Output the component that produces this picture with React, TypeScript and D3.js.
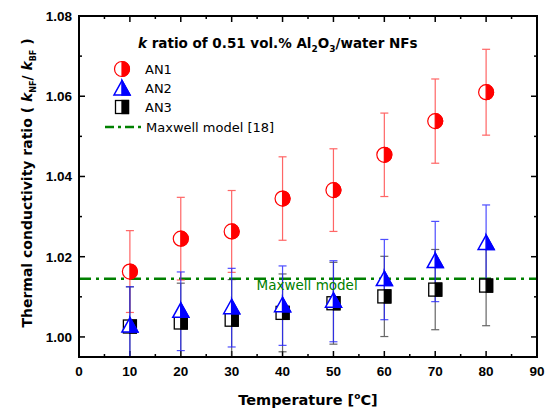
import React, { useEffect, useRef } from "react";
import * as d3 from "d3";

const temps = [10, 20, 30, 40, 50, 60, 70, 80];
const an1 = [1.0163, 1.0245, 1.0263, 1.0345, 1.0366, 1.0454, 1.0538, 1.061];
const an1Err = [0.0102, 0.0103, 0.0102, 0.0104, 0.0103, 0.0104, 0.0105, 0.0107];
const an2 = [1.0027, 1.0064, 1.0073, 1.0078, 1.0089, 1.0143, 1.0188, 1.0233];
const an2Err = [0.0098, 0.0098, 0.0098, 0.0099, 0.0101, 0.0100, 0.0100, 0.0096];
const an3 = [1.0026, 1.0036, 1.0043, 1.006, 1.0084, 1.0101, 1.0118, 1.0128];
const an3Err = [0.0099, 0.0098, 0.0100, 0.0097, 0.0102, 0.0100, 0.0100, 0.0100];
const maxwell = 1.0145;
const xTicks = [0, 10, 20, 30, 40, 50, 60, 70, 80, 90];
const yTicks = [1.0, 1.02, 1.04, 1.06, 1.08];

const W = 549;
const H = 410;
const m = { left: 79, right: 12, top: 16, bottom: 53 };

export default function App() {
  const ref = useRef<SVGSVGElement>(null);

  useEffect(() => {
    const svg = d3.select(ref.current);
    svg.selectAll("*").remove();

    const x = d3.scaleLinear().domain([0, 90]).range([m.left, W - m.right]);
    const y = d3.scaleLinear().domain([0.995, 1.08]).range([H - m.bottom, m.top]);
    const [x0, x1] = x.range();
    const [y0, y1] = y.range();

    svg.append("defs").append("clipPath").attr("id", "plotclip")
      .append("rect").attr("x", x0).attr("y", y1).attr("width", x1 - x0).attr("height", y0 - y1);

    const tickFont = "'Liberation Sans', Arial, sans-serif";
    const axisG = svg.append("g").attr("stroke", "#000").attr("stroke-width", 1.5);
    // minor + major ticks, inward on all sides
    d3.range(0, 91, 5).forEach((v) => {
      const len = v % 10 === 0 ? 6 : 3;
      axisG.append("line").attr("x1", x(v)).attr("x2", x(v)).attr("y1", y0).attr("y2", y0 - len);
      axisG.append("line").attr("x1", x(v)).attr("x2", x(v)).attr("y1", y1).attr("y2", y1 + len);
    });
    d3.range(1.0, 1.0801, 0.01).forEach((v) => {
      const major = Math.round(v * 100) % 2 === 0;
      const len = major ? 6 : 3;
      axisG.append("line").attr("y1", y(v)).attr("y2", y(v)).attr("x1", x0).attr("x2", x0 + len);
      axisG.append("line").attr("y1", y(v)).attr("y2", y(v)).attr("x1", x1).attr("x2", x1 - len);
    });

    svg.append("g").selectAll("text").data(xTicks).join("text")
      .attr("x", (d) => x(d)).attr("y", y0 + 19)
      .attr("text-anchor", "middle").attr("font-family", tickFont)
      .attr("font-weight", "bold").attr("font-size", 13.5).text((d) => d);
    svg.append("g").selectAll("text").data(yTicks).join("text")
      .attr("x", x0 - 7).attr("y", (d) => y(d) + 5)
      .attr("text-anchor", "end").attr("font-family", tickFont)
      .attr("font-weight", "bold").attr("font-size", 13.5).text((d) => d.toFixed(2));

    const plot = svg.append("g").attr("clip-path", "url(#plotclip)");

    // Maxwell line
    plot.append("line").attr("x1", x0).attr("x2", x1)
      .attr("y1", y(maxwell)).attr("y2", y(maxwell))
      .attr("stroke", "#008000").attr("stroke-width", 2.5).attr("stroke-dasharray", "12,5,3,5");
    svg.append("text").attr("x", x(34.9)).attr("y", y(maxwell) + 11)
      .attr("font-family", "'DejaVu Sans', Verdana, sans-serif").attr("font-size", 13.5)
      .attr("fill", "#008000").text("Maxwell model");

    const errBars = (vals: number[], errs: number[], color: string, op: number) => {
      const g = plot.append("g").attr("stroke", color).attr("stroke-width", 1.2).attr("opacity", op);
      temps.forEach((t, i) => {
        const cx = x(t);
        const top = y(vals[i] + errs[i]);
        const bot = y(vals[i] - errs[i]);
        g.append("line").attr("x1", cx).attr("x2", cx).attr("y1", top).attr("y2", bot);
        g.append("line").attr("x1", cx - 4).attr("x2", cx + 4).attr("y1", top).attr("y2", top);
        g.append("line").attr("x1", cx - 4).attr("x2", cx + 4).attr("y1", bot).attr("y2", bot);
      });
    };
    errBars(an1, an1Err, "#ff4040", 0.8);
    errBars(an3, an3Err, "#333", 0.75);
    errBars(an2, an2Err, "#2222ff", 0.8);

    const circle = (g: any, cx: number, cy: number) => {
      const r = 7.5;
      g.append("circle").attr("cx", cx).attr("cy", cy).attr("r", r).attr("fill", "#fff")
        .attr("stroke", "#ff0000").attr("stroke-width", 1.2);
      g.append("path").attr("d", `M${cx},${cy - r}A${r},${r} 0 0,1 ${cx},${cy + r}Z`)
        .attr("fill", "#ff0000").attr("stroke", "#ff0000").attr("stroke-width", 1.2);
    };
    const tri = (g: any, cx: number, cy: number) => {
      const s = 8;
      const top = cy - s * 1.05;
      const bot = cy + s * 0.75;
      g.append("path").attr("d", `M${cx},${top}L${cx + s},${bot}L${cx - s},${bot}Z`)
        .attr("fill", "#fff").attr("stroke", "#0000ff").attr("stroke-width", 1.5);
      g.append("path").attr("d", `M${cx},${top}L${cx + s},${bot}L${cx},${bot}Z`)
        .attr("fill", "#0000ff").attr("stroke", "#0000ff").attr("stroke-width", 1.5);
    };
    const sq = (g: any, cx: number, cy: number) => {
      const s = 6.5;
      g.append("rect").attr("x", cx - s).attr("y", cy - s).attr("width", 2 * s).attr("height", 2 * s)
        .attr("fill", "#fff").attr("stroke", "#000").attr("stroke-width", 1.3);
      g.append("rect").attr("x", cx).attr("y", cy - s).attr("width", s).attr("height", 2 * s)
        .attr("fill", "#000").attr("stroke", "#000").attr("stroke-width", 1.3);
    };

    const marks = svg.append("g");
    temps.forEach((t, i) => circle(marks, x(t), y(an1[i])));
    temps.forEach((t, i) => sq(marks, x(t), y(an3[i])));
    temps.forEach((t, i) => tri(marks, x(t), y(an2[i])));

    // frame
    svg.append("rect").attr("x", x0).attr("y", y1).attr("width", x1 - x0).attr("height", y0 - y1)
      .attr("fill", "none").attr("stroke", "#000").attr("stroke-width", 2);

    // title
    const vfont = "'DejaVu Sans', Verdana, sans-serif";
    const title = svg.append("text").attr("x", 138).attr("y", 48)
      .attr("font-family", vfont).attr("font-weight", "bold").attr("font-size", 13.5);
    title.append("tspan").attr("font-style", "italic").text("k");
    title.append("tspan").text(" ratio of 0.51 vol.% Al");
    title.append("tspan").attr("font-size", 9).attr("dy", 4).text("2");
    title.append("tspan").attr("dy", -4).text("O");
    title.append("tspan").attr("font-size", 9).attr("dy", 4).text("3");
    title.append("tspan").attr("dy", -4).text("/water NFs");

    // legend
    const lg = svg.append("g");
    circle(lg, 122, 69);
    tri(lg, 122, 89);
    sq(lg, 122, 107);
    lg.append("line").attr("x1", 105).attr("x2", 142).attr("y1", 127).attr("y2", 127)
      .attr("stroke", "#008000").attr("stroke-width", 2.5).attr("stroke-dasharray", "9,4,3,4");
    const lt = ["AN1", "AN2", "AN3", "Maxwell model [18]"];
    const ly = [69, 88, 107, 127];
    lt.forEach((s, i) => {
      lg.append("text").attr("x", i === 3 ? 146 : 145).attr("y", ly[i] + 5)
        .attr("font-family", vfont).attr("font-size", 13).attr("fill", "#000").text(s);
    });

    // axis labels
    const xl = svg.append("text").attr("x", 308).attr("y", 405).attr("text-anchor", "middle")
      .attr("font-family", vfont).attr("font-weight", "bold").attr("font-size", 14.5);
    xl.append("tspan").text("Temperature [");
    xl.append("tspan").attr("font-size", 9).attr("dy", -6).text("o");
    xl.append("tspan").attr("dy", 6).text("C]");

    const yl = svg.append("text").attr("transform", `translate(32,${183}) rotate(-90)`)
      .attr("text-anchor", "middle").attr("font-family", vfont)
      .attr("font-weight", "bold").attr("font-size", 14);
    yl.append("tspan").text("Thermal conductivity ratio ( ");
    yl.append("tspan").attr("font-style", "italic").text("k");
    yl.append("tspan").attr("font-size", 8).attr("dy", 4).text("NF");
    yl.append("tspan").attr("dy", -4).text("/ ");
    yl.append("tspan").attr("font-style", "italic").text("k");
    yl.append("tspan").attr("font-size", 8).attr("dy", 4).text("BF");
    yl.append("tspan").attr("dy", -4).text(" )");
  }, []);

  return (
    <svg ref={ref} width={W} height={H}
      style={{ position: "absolute", left: 0, top: 0, background: "#fff" }} />
  );
}
